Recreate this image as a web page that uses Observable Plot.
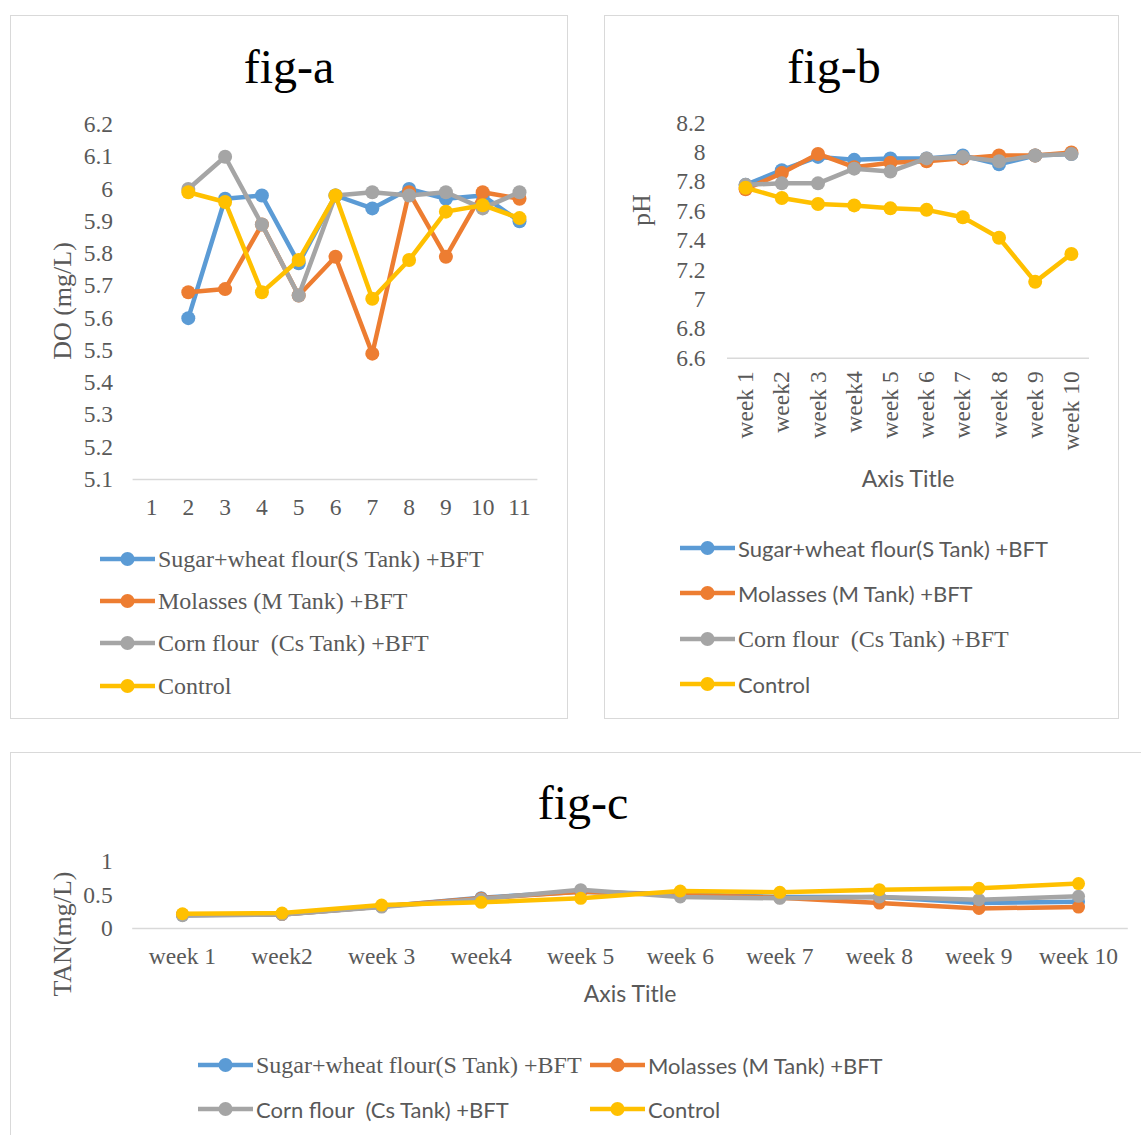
<!DOCTYPE html>
<html><head><meta charset="utf-8">
<script src="https://cdn.jsdelivr.net/npm/d3@7"></script>
<script src="https://cdn.jsdelivr.net/npm/@observablehq/plot@0.6"></script>
<style>
body{margin:0;background:#fff;}
#root{position:relative;width:1141px;height:1135px;overflow:hidden;background:#fff;}
.panel{position:absolute;border:1.5px solid #d9d9d9;box-sizing:border-box;background:#fff;}
#root svg{position:absolute;overflow:visible;}
</style></head>
<body><div id="root"></div>
<script>
// ---------- data ----------
const seriesNames = ["Sugar+wheat flour(S Tank) +BFT", "Molasses (M Tank) +BFT", "Corn flour  (Cs Tank) +BFT", "Control"];
const seriesColors = ["#5B9BD5", "#ED7D31", "#A5A5A5", "#FFC000"];

// fig-a : DO (mg/L)
const catsA = ["1","2","3","4","5","6","7","8","9","10","11"];
const daysA = ["2","3","4","5","6","7","8","9","10","11"];
const doSugar    = [5.60, 5.97, 5.98, 5.77, 5.98, 5.94, 6.00, 5.97, 5.98, 5.90];
const doMolasses = [5.68, 5.69, 5.89, 5.67, 5.79, 5.49, 5.99, 5.79, 5.99, 5.97];
const doCorn     = [6.00, 6.10, 5.89, 5.67, 5.98, 5.99, 5.98, 5.99, 5.94, 5.99];
const doControl  = [5.99, 5.96, 5.68, 5.78, 5.98, 5.66, 5.78, 5.93, 5.95, 5.91];
const doTicks = [5.1, 5.2, 5.3, 5.4, 5.5, 5.6, 5.7, 5.8, 5.9, 6, 6.1, 6.2];

// fig-b : pH
const weeks = ["week 1","week2","week 3","week4","week 5","week 6","week 7","week 8","week 9","week 10"];
const phSugar    = [7.78, 7.88, 7.97, 7.95, 7.96, 7.96, 7.98, 7.92, 7.98, 7.99];
const phMolasses = [7.75, 7.86, 7.99, 7.90, 7.93, 7.94, 7.96, 7.98, 7.98, 8.00];
const phCorn     = [7.78, 7.79, 7.79, 7.89, 7.87, 7.96, 7.97, 7.94, 7.98, 7.99];
const phControl  = [7.76, 7.69, 7.65, 7.64, 7.62, 7.61, 7.56, 7.42, 7.12, 7.31];
const phTicks = [6.6, 6.8, 7, 7.2, 7.4, 7.6, 7.8, 8, 8.2];

// fig-c : TAN (mg/L)
const tanSugar    = [0.20, 0.21, 0.33, 0.46, 0.55, 0.51, 0.47, 0.47, 0.38, 0.40];
const tanMolasses = [0.21, 0.21, 0.33, 0.45, 0.55, 0.50, 0.46, 0.38, 0.30, 0.32];
const tanCorn     = [0.19, 0.21, 0.32, 0.44, 0.58, 0.47, 0.45, 0.47, 0.43, 0.48];
const tanControl  = [0.22, 0.23, 0.35, 0.39, 0.45, 0.56, 0.54, 0.58, 0.60, 0.67];
const tanTicks = [0, 0.5, 1];

// ---------- layout ----------
const root = document.getElementById("root");
function panel(l, t, w, h) {
  const d = document.createElement("div");
  d.className = "panel";
  Object.assign(d.style, {left: l + "px", top: t + "px", width: w + "px", height: h + "px"});
  root.appendChild(d);
}
panel(10, 15, 558, 704);
panel(604, 15, 515, 704);
panel(10, 752, 1160, 420);

const SERIF = "'Liberation Serif', 'Times New Roman', serif";
const SANS = "Lato, 'Open Sans', sans-serif";
const fmt = d3.format("~g");
const TICK = 23.5;

function seriesMarks(xs, sets, r, sw) {
  const marks = [];
  sets.forEach((vals, i) => {
    const data = xs.map((x, j) => ({x, y: vals[j]}));
    marks.push(Plot.line(data, {x: "x", y: "y", stroke: seriesColors[i], strokeWidth: sw, strokeLinejoin: "round"}));
    marks.push(Plot.dot(data, {x: "x", y: "y", fill: seriesColors[i], r}));
  });
  return marks;
}
function place(svg, l, t) {
  svg.style.left = l + "px";
  svg.style.top = t + "px";
  root.appendChild(svg);
}

// fig-a
const figA = Plot.plot({
  width: 557, height: 440,
  marginLeft: 122.6, marginRight: 29.6, marginTop: 24, marginBottom: 61,
  style: {fontFamily: SERIF, fontSize: TICK + "px", color: "#595959", background: "transparent"},
  x: {type: "point", domain: catsA, padding: 0.5, round: false},
  y: {domain: [5.1, 6.2]},
  marks: [
    Plot.ruleY([5.1], {stroke: "#d9d9d9", strokeWidth: 1.5}),
    Plot.axisY(doTicks, {tickSize: 0, tickPadding: 20, tickFormat: fmt, label: null, fontSize: TICK}),
    Plot.axisX(catsA, {tickSize: 0, tickPadding: 19, label: null, fontSize: TICK}),
    ...seriesMarks(daysA, [doSugar, doMolasses, doCorn, doControl], 7, 4.5)
  ]
});
place(figA, 10, 100);

// fig-b
const figB = Plot.plot({
  width: 514, height: 370,
  marginLeft: 123, marginRight: 29, marginTop: 22.6, marginBottom: 112.2,
  style: {fontFamily: SERIF, fontSize: TICK + "px", color: "#595959", background: "transparent"},
  x: {type: "point", domain: weeks, padding: 0.5, round: false},
  y: {domain: [6.6, 8.2]},
  marks: [
    Plot.ruleY([6.6], {stroke: "#d9d9d9", strokeWidth: 1.5}),
    Plot.axisY(phTicks, {tickSize: 0, tickPadding: 22, tickFormat: fmt, label: null, fontSize: TICK}),
    Plot.axisX(weeks, {tickSize: 0, tickPadding: 13, tickRotate: -90, label: null, fontSize: TICK}),
    ...seriesMarks(weeks, [phSugar, phMolasses, phCorn, phControl], 7, 4.5)
  ]
});
place(figB, 604, 100);

// fig-c
const figC = Plot.plot({
  width: 1131, height: 140,
  marginLeft: 122.2, marginRight: 13.2, marginTop: 21, marginBottom: 52,
  style: {fontFamily: SERIF, fontSize: TICK + "px", color: "#595959", background: "transparent"},
  x: {type: "point", domain: weeks, padding: 0.5, round: false},
  y: {domain: [0, 1]},
  marks: [
    Plot.ruleY([0], {stroke: "#d9d9d9", strokeWidth: 1.5}),
    Plot.axisY(tanTicks, {tickSize: 0, tickPadding: 20, tickFormat: fmt, label: null, fontSize: TICK}),
    Plot.axisX(weeks, {tickSize: 0, tickPadding: 19, label: null, fontSize: TICK}),
    ...seriesMarks(weeks, [tanSugar, tanMolasses, tanCorn, tanControl], 6.5, 4.5)
  ]
});
place(figC, 10, 840);

// ---------- titles, axis titles, legends ----------
const ov = d3.create("svg").attr("width", 1141).attr("height", 1135).style("left", "0px").style("top", "0px");
root.appendChild(ov.node());

function txt(x, y, s, font, size, color, anchor = "middle", rotate = 0) {
  ov.append("text")
    .attr("transform", `translate(${x},${y}) rotate(${rotate})`)
    .attr("text-anchor", anchor)
    .attr("dominant-baseline", "central")
    .style("font-family", font).style("font-size", size + "px").style("fill", color)
    .style("white-space", "pre")
    .attr("xml:space", "preserve")
    .text(s);
}
txt(289, 66, "fig-a", SERIF, 48, "#000");
txt(834, 66, "fig-b", SERIF, 48, "#000");
txt(583, 802, "fig-c", SERIF, 48, "#000");

txt(62, 301, "DO (mg/L)", SERIF, 26, "#595959", "middle", -90);
txt(641, 210, "pH", SERIF, 26, "#595959", "middle", -90);
txt(62, 934, "TAN(mg/L)", SERIF, 26, "#595959", "middle", -90);
txt(908, 478, "Axis Title", SANS, 23, "#595959");
txt(630, 993, "Axis Title", SANS, 23, "#595959");

function legendItem(x0, y, i, font, size) {
  ov.append("line").attr("x1", x0).attr("x2", x0 + 55).attr("y1", y).attr("y2", y)
    .attr("stroke", seriesColors[i]).attr("stroke-width", 4.5);
  ov.append("circle").attr("cx", x0 + 27.5).attr("cy", y).attr("r", 7).attr("fill", seriesColors[i]);
  txt(x0 + 58, y, seriesNames[i], font, size, "#595959", "start");
}
const SANS_LEG = 22;
// fig-a legend
[559, 601, 643, 686].forEach((y, i) => legendItem(100, y, i, SERIF, 24));
// fig-b legend
const fontsB = [SANS, SANS, SERIF, SANS];
[548, 593, 639, 684].forEach((y, i) => legendItem(680, y, i, fontsB[i], fontsB[i] === SERIF ? 24 : SANS_LEG));
// fig-c legend
legendItem(198, 1065, 0, SERIF, 24);
legendItem(590, 1065, 1, SANS, SANS_LEG);
legendItem(198, 1109, 2, SANS, SANS_LEG);
legendItem(590, 1109, 3, SANS, SANS_LEG);
</script>
</body></html>
